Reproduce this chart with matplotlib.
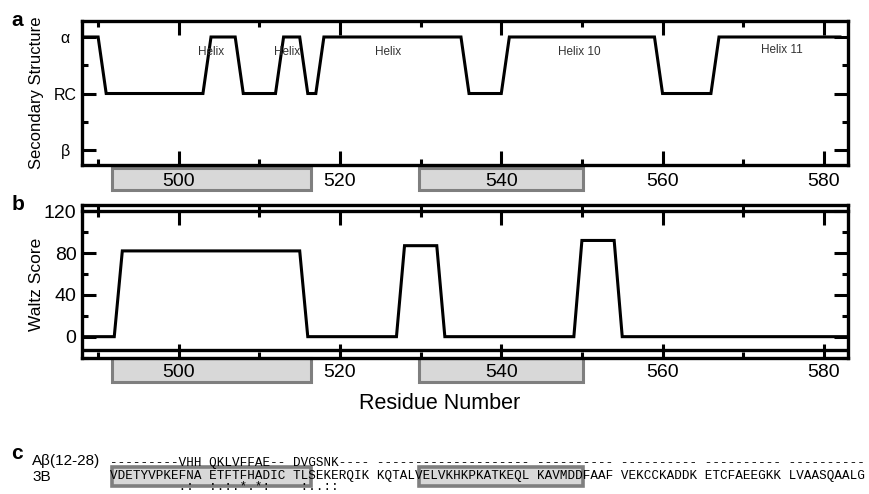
import matplotlib
matplotlib.use('Agg')
import matplotlib.pyplot as plt
import matplotlib.transforms as mtransforms
from matplotlib.patches import Rectangle
from matplotlib.ticker import MultipleLocator

plt.rcParams['font.family'] = ['Liberation Sans', 'DejaVu Sans']

# secondary structure per residue: 2 = alpha, 1 = random coil, 0 = beta
ss_res = [488, 490, 491, 503, 504, 507, 508, 512, 513, 515, 516, 517, 518,
          535, 536, 540, 541, 559, 560, 566, 567, 582]
ss_val = [2, 2, 1, 1, 2, 2, 1, 1, 2, 2, 1, 1, 2,
          2, 1, 1, 2, 2, 1, 1, 2, 2]

waltz_res = [488, 492, 493, 515, 516, 527, 528, 532, 533, 549, 550, 554, 555, 583]
waltz_val = [0, 0, 82, 82, 0, 0, 87, 87, 0, 0, 92, 92, 0, 0]

helix_text = ['Helix', 'Helix', 'Helix', 'Helix 10', 'Helix 11']
helix_res = [504, 513.4, 526, 549.7, 574.8]
helix_lvl = [1.74, 1.74, 1.73, 1.74, 1.77]

# residue ranges highlighted in grey
regions = [(491.7, 516.4), (529.8, 550.1)]

xticks = [500, 520, 540, 560, 580]
ss_ticks = [0, 1, 2]
ss_labels = ['β', 'RC', 'α']
waltz_ticks = [0, 40, 80, 120]

ab_name = 'Aβ(12-28)'
ab_seq = ('---------VHH QKLVFFAE-- DVGSNK---- -------------------- '
          '---------- ---------- ---------- ----------')
b3_name = '3B'
b3_seq = ('VDETYVPKEFNA ETFTFHADIC TLSEKERQIK KQTALVELVKHKPKATKEQL '
          'KAVMDDFAAF VEKCCKADDK ETCFAEEGKK LVAASQAALG')
consensus = '         .:  :.:.*.*:    :..::'

W, H = 870, 494
box_face = '#d8d8d8'
box_edge = '#7f7f7f'


def fx(px):
    return px / W


def fy(px):
    return 1 - px / H


def style(ax):
    for s in ax.spines.values():
        s.set_linewidth(2.4)
    ax.set_xlim(488, 583)
    ax.set_xticks(xticks)
    ax.xaxis.set_minor_locator(MultipleLocator(10))
    ax.tick_params(which='both', direction='in', top=True, right=True, width=2.2)
    ax.tick_params(which='major', length=10)
    ax.tick_params(which='minor', length=4.5)
    ax.tick_params(axis='x', labelsize=14)


def tick_boxes(ax, top, bottom):
    tr = mtransforms.blended_transform_factory(ax.transData, ax.transAxes)
    for x0, x1 in regions:
        ax.add_patch(Rectangle((x0, bottom), x1 - x0, top - bottom, transform=tr,
                               facecolor=box_face, edgecolor=box_edge, lw=2.2,
                               clip_on=False, zorder=1))


fig = plt.figure(figsize=(8.7, 4.94), dpi=100)

# panel a
axa = fig.add_axes([fx(82), fy(165), fx(766), 144 / H])
style(axa)
axa.plot(ss_res, ss_val, color='black', lw=2.2, solid_joinstyle='miter')
axa.set_ylim(-0.265, 2.283)
axa.set_yticks(ss_ticks, ss_labels, fontsize=11.5)
axa.yaxis.set_minor_locator(MultipleLocator(0.5))
axa.tick_params(axis='y', pad=12)
for lab in axa.get_yticklabels():
    lab.set_horizontalalignment('center')
axa.tick_params(axis='x', pad=6)
for t, x, y in zip(helix_text, helix_res, helix_lvl):
    axa.text(x, y, t, fontsize=8.5, ha='center', va='center', color='#333333')
tick_boxes(axa, -0.021, -0.174)

# panel b
ylo, yhi = -20.4, 125.9
axb = fig.add_axes([fx(82), fy(358), fx(766), 153 / H])
style(axb)
axb.plot(waltz_res, waltz_val, color='black', lw=2.2, solid_joinstyle='miter')
axb.set_ylim(ylo, yhi)
axb.set_yticks(waltz_ticks)
axb.yaxis.set_minor_locator(MultipleLocator(20))
axb.tick_params(axis='y', labelsize=14, pad=4)
axb.tick_params(axis='x', top=False, pad=4)
axb.axhline(-12.7, color='black', lw=2.4)
sec = axb.secondary_xaxis((120 - ylo) / (yhi - ylo))
sec.set_xticks(xticks)
sec.xaxis.set_minor_locator(MultipleLocator(10))
sec.tick_params(which='both', direction='in', width=2.2, labeltop=False, labelbottom=False)
sec.tick_params(which='major', length=10)
sec.tick_params(which='minor', length=4.5)
for s in sec.spines.values():
    s.set_linewidth(2.4)
tick_boxes(axb, 0, -0.157)

fig.text(fx(37), fy(93), 'Secondary Structure', fontsize=12, rotation=90,
         ha='center', va='center')
fig.text(fx(37), fy(284), 'Waltz Score', fontsize=12.5, rotation=90,
         ha='center', va='center')
fig.text(fx(440), fy(403), 'Residue Number', fontsize=15.5, ha='center', va='center')

for letter, x, y in [('a', 17, 21), ('b', 18, 205), ('c', 17, 453)]:
    fig.text(fx(x), fy(y), letter, fontsize=15, fontweight='bold', ha='center', va='center')

# panel c: alignment
trc = mtransforms.blended_transform_factory(axa.transData, fig.transFigure)
for x0, x1 in regions:
    fig.add_artist(Rectangle((x0, fy(486)), x1 - x0, 19 / H, transform=trc,
                             facecolor=box_face, edgecolor=box_edge, lw=2.6, zorder=1))
fig.text(fx(32), fy(461), ab_name, fontsize=11, va='center')
fig.text(fx(32), fy(477), b3_name, fontsize=11, va='center')
mono = dict(family=['Liberation Mono', 'DejaVu Sans Mono'], fontsize=9.1, va='center')
fig.text(fx(110), fy(463), ab_seq, **mono)
fig.text(fx(110), fy(476), b3_seq, **mono)
fig.text(fx(110), fy(487), consensus, **mono)

fig.savefig('out.png', dpi=100)
